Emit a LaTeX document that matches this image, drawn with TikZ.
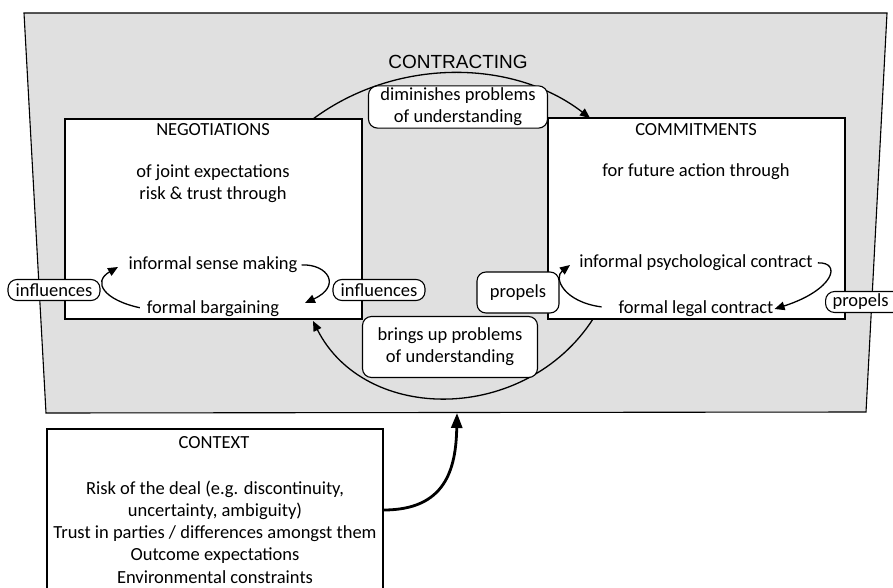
\documentclass[tikz,border=0pt]{standalone}
\usepackage{fontspec}
\setmainfont{Carlito}
\newfontfamily\titlefont{Liberation Sans}
\usetikzlibrary{arrows.meta}

\begin{document}
\begin{tikzpicture}[x=1pt,y=-1pt,%
            mybox/.style={draw, fill=white, line width=1.1pt, inner sep=0pt},
            mylabel/.style={draw, fill=white, line width=1.1pt, rounded corners=9pt,
                            inner sep=2pt, align=center},
            mytext/.style={inner sep=1pt, align=center},
            myarrow/.style={line width=1.3pt, -{Triangle[length=10pt,width=8.5pt]}}
    ]
    \path [use as bounding box, clip] (0,0) rectangle (893,588);
    \fontsize{18.5}{22.2}\selectfont

    % contracting area
    \draw [fill=black!12, line width=1.1pt]
        (24,13) -- (887,13) -- (866,412) -- (46,413) -- cycle;
    \node (contr) at (458,62) {\titlefont\fontsize{19}{22}\selectfont CONTRACTING};

    % the two boxes
    \node [mybox, minimum width=297pt, minimum height=200pt] (neg) at (213.5,219) {};
    \node [mybox, minimum width=297pt, minimum height=201pt] (com) at (696.5,218.5) {};
    \node [mybox, minimum width=336pt, minimum height=192pt] (ctx) at (215,525) {};

    \node [mytext] (negt) at (213,130) {NEGOTIATIONS};
    \node [mytext] (negs) at (213,184) {of joint expectations\\risk \& trust through};
    \node [mytext] (comt) at (696,130) {COMMITMENTS};
    \node [mytext] (coms) at (696,172) {for future action through};
    \node [mytext] (ism) at (213,265) {informal sense making};
    \node [mytext] (fb)  at (213,309) {formal bargaining};
    \node [mytext] (ipc) at (696,263) {informal psychological contract};
    \node [mytext] (flc) at (696,309) {formal legal contract};
    \node [mytext] (ctxt) at (214,443) {CONTEXT};
    \node [mytext] (ctxs) at (215,532) {Risk of the deal (e.g. discontinuity,\\
        uncertainty, ambiguity)\\Trust in parties / differences amongst them\\
        Outcome expectations\\Environmental constraints};

    % end points of the arcs
    \coordinate (t1) at (313,119);
    \coordinate (t2) at (590,118);
    \coordinate (b1) at (593,319);
    \coordinate (b2) at (313,321);
    \coordinate (c1) at (457,413);

    \draw [myarrow] (t1) .. controls (395,58) and (512,58) .. (t2);
    \draw [myarrow] (b1) .. controls (525,424) and (365,424) .. (b2);

    % inner loops
    \draw [myarrow, shorten <=6pt] (fb.west) .. controls (104,300) and (92,282) .. (118,267);
    \draw [myarrow, shorten <=3pt] (ism.east) .. controls (328,264) and (342,286) .. (305,303);
    \draw [myarrow, shorten <=16pt] (flc.west) .. controls (564,302) and (553,278) .. (570,265);
    \draw [myarrow, shorten <=4pt] (ipc.east) .. controls (842,262) and (834,290) .. (flc.east);

    % context
    \draw [line width=2.8pt, -{Triangle[length=15pt,width=11pt]}]
        (ctx.east |- 0,510) .. controls (445,510) and (456,470) .. (c1);

    % labels
    \node [mylabel, minimum width=179pt, minimum height=40pt] (dim) at (458,107)
        {diminishes problems\\of understanding};
    \node [mylabel, minimum width=175pt, minimum height=61pt] (bri) at (450,347)
        {brings up problems\\of understanding};
    \foreach \n/\x in {inf1/54,inf2/379}
        \node [mylabel, minimum width=92pt, minimum height=21pt] (\n) at (\x,290) {influences};
    \node [mylabel, minimum width=82pt, minimum height=41pt] (pro1) at (518,292.5) {\hfill propels};
    \node [mylabel, minimum height=21pt, inner xsep=7pt, anchor=west] (pro2) at (825,302) {propels\hspace{6pt}};
\end{tikzpicture}
\end{document}
